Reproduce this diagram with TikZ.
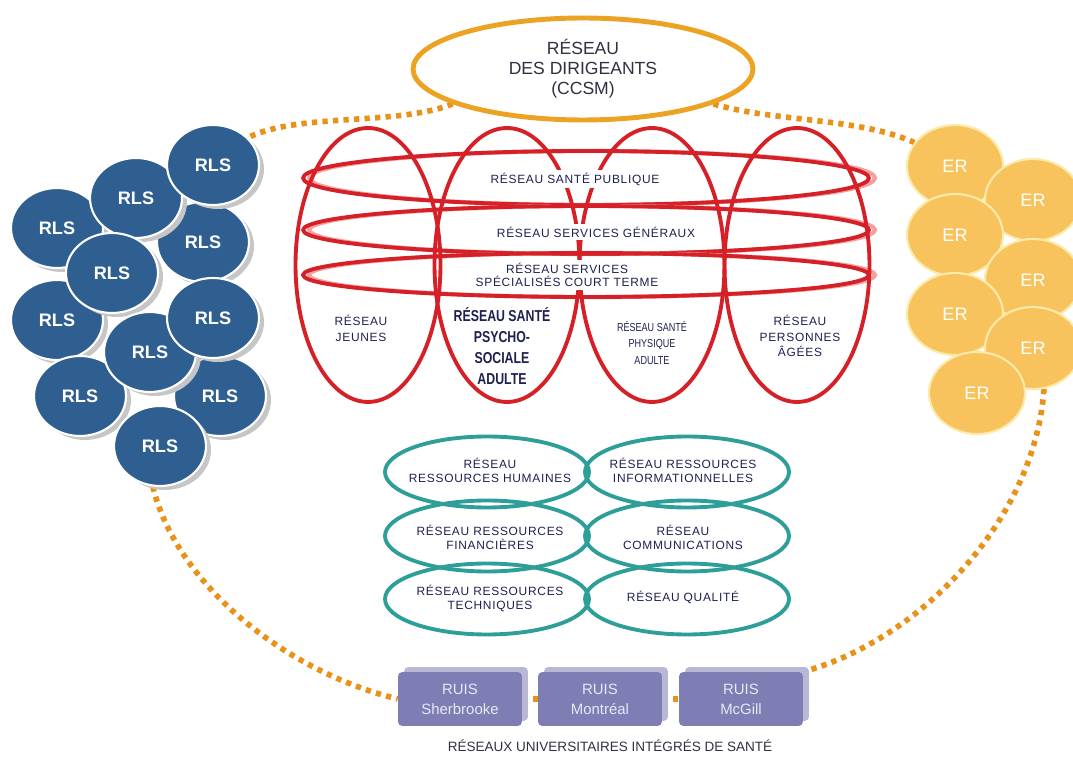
\documentclass[tikz,border=0pt]{standalone}
\usepackage{fontspec}
\setmainfont{Liberation Sans}
\newfontfamily\spacedfont[LetterSpace=6]{Liberation Sans}
\newfontfamily\narrowfont[FakeStretch=0.78]{Liberation Sans}
\usetikzlibrary{shapes.geometric,shadows,backgrounds}
\definecolor{rlsblue}{RGB}{47,95,145}
\definecolor{erorange}{RGB}{248,194,92}
\definecolor{erline}{RGB}{252,234,170}
\definecolor{ccsmring}{RGB}{236,162,34}
\definecolor{dotorange}{RGB}{232,146,26}
\definecolor{ringred}{RGB}{214,32,40}
\definecolor{ringpink}{RGB}{244,160,160}
\definecolor{ringteal}{RGB}{46,158,152}
\definecolor{ruisfill}{RGB}{126,126,180}
\definecolor{ruisshade}{RGB}{184,184,212}
\definecolor{ruistext}{RGB}{232,232,246}
\definecolor{txtnavy}{RGB}{30,32,80}
\definecolor{txtgray}{RGB}{48,48,64}
\begin{document}
\begin{tikzpicture}[x=0.02cm,y=-0.02cm,
   every node/.style={inner sep=0pt, text=txtnavy, align=center},
   rls/.style={ellipse, minimum width=1.84cm, minimum height=1.6cm, fill=rlsblue,
     draw=white, line width=1.2pt, text=white, font=\bfseries\fontsize{10.3}{12}\selectfont,
     drop shadow={shadow xshift=0.1cm, shadow yshift=-0.08cm, fill=gray!45, opacity=1}},
   er/.style={ellipse, minimum width=1.92cm, minimum height=1.64cm, fill=erorange,
     draw=erline, line width=1.2pt, text=white, font=\fontsize{10.3}{12}\selectfont},
   ccsm/.style={ellipse, minimum width=6.8cm, minimum height=2.04cm, draw=ccsmring,
     line width=2.8pt, fill=white, text=txtgray, font=\fontsize{10}{11.3}\selectfont},
   vring/.style={ellipse, minimum width=2.9cm, minimum height=5.48cm, draw=ringred, line width=2.2pt},
   hring/.style={ellipse, minimum width=11.32cm, draw=ringred, line width=2.2pt,
     preaction={draw=ringpink, line width=2.4pt, transform canvas={xshift=0.12cm}}},
   hlabel/.style={fill=white, inner sep=1.5pt, font=\spacedfont\fontsize{6.8}{7.6}\selectfont},
   vlabel/.style={font=\spacedfont\fontsize{6.8}{9}\selectfont},
   teal/.style={ellipse, minimum width=4.08cm, minimum height=1.42cm, draw=ringteal, line width=2.2pt},
   tlabel/.style={font=\spacedfont\fontsize{6.8}{8}\selectfont},
   ruis/.style={rectangle, rounded corners=2.5pt, minimum width=2.48cm, minimum height=1.08cm,
     fill=ruisfill, text=ruistext, font=\fontsize{8.5}{11.3}\selectfont,
     drop shadow={shadow xshift=0.12cm, shadow yshift=0.1cm, fill=ruisshade, opacity=1}},
   dots/.style={draw=dotorange, line width=3.2pt, dash pattern=on 3pt off 3pt}]

\useasboundingbox (0,0) rectangle (1073,759);
\clip (0,0) rectangle (1073,759);

\node[ccsm] (ccsm) at (583,69) {RÉSEAU\\DES DIRIGEANTS\\(CCSM)};

\foreach \n/\x/\y in {3/57/228, 6/57/320, 9/80/396, 4/203/242, 10/220/396, 2/136/198,
                      5/112/273, 8/150/352, 7/213/318, 11/160/446, 1/213/165}
  \node[rls] (rls\n) at (\x,\y) {RLS};

\foreach \n/\x/\y in {1/955/166, 2/1033/200, 3/955/235, 4/1033/280, 5/955/314, 6/1033/348, 7/977/393}
  \node[er] (er\n) at (\x,\y) {ER};

\node[hring, minimum height=1.08cm] (publique) at (586,178) {};
\node[hring, minimum height=0.96cm] (generaux) at (586,230) {};
\node[hring, minimum height=0.88cm] (court) at (586,275) {};

\node[vring] (jeunes) at (368,265) {};
\node[vring] (psycho) at (507,265) {};
\node[vring] (physique) at (652,265) {};
\node[vring] (agees) at (797,265) {};

\node[hlabel] (publiquetxt) at (575,179) {RÉSEAU SANTÉ PUBLIQUE};
\node[hlabel] (generauxtxt) at (596,232) {RÉSEAU SERVICES GÉNÉRAUX};
\node[hlabel] (courttxt) at (567,275) {RÉSEAU SERVICES\\SPÉCIALISÉS COURT TERME};

\node[vlabel] (jeunestxt) at (361,328) {RÉSEAU\\JEUNES};
\node[font=\narrowfont\bfseries\fontsize{9}{12}\selectfont, text=txtnavy] (psychotxt) at (502,346)
  {RÉSEAU SANTÉ\\PSYCHO-\\SOCIALE\\ADULTE};
\node[font=\narrowfont\fontsize{6.6}{9.6}\selectfont] (physiquetxt) at (652,343)
  {RÉSEAU SANTÉ\\PHYSIQUE\\ADULTE};
\node[vlabel] (ageestxt) at (800,336) {RÉSEAU\\PERSONNES\\ÂGÉES};

\node[teal] (humaines) at (487,472) {};
\node[teal] (informationnelles) at (687,472) {};
\node[teal] (financieres) at (487,536) {};
\node[teal] (communications) at (687,536) {};
\node[teal] (techniques) at (487,599) {};
\node[teal] (qualite) at (687,599) {};
\node[tlabel] at (490,470) {RÉSEAU\\RESSOURCES HUMAINES};
\node[tlabel] at (683,470) {RÉSEAU RESSOURCES\\INFORMATIONNELLES};
\node[tlabel] at (490,537) {RÉSEAU RESSOURCES\\FINANCIÈRES};
\node[tlabel] at (683,537) {RÉSEAU\\COMMUNICATIONS};
\node[tlabel] at (490,598) {RÉSEAU RESSOURCES\\TECHNIQUES};
\node[tlabel] at (683,597) {RÉSEAU QUALITÉ};

\node[ruis] (sherbrooke) at (460,699) {RUIS\\Sherbrooke};
\node[ruis] (montreal) at (600,699) {RUIS\\Montréal};
\node[ruis] (mcgill) at (741,699) {RUIS\\McGill};
\node[text=txtgray, font=\fontsize{7.7}{9}\selectfont] (ruiscaption) at (610,746)
  {RÉSEAUX UNIVERSITAIRES INTÉGRÉS DE  SANTÉ};

\begin{pgfonlayer}{background}
\draw[dots] (ccsm.195) .. controls +(-55,22) and +(50,-25) .. (rls1.38);
\draw[dots] (ccsm.-15) .. controls +(60,18) and +(-55,-25) .. (er1.150);
\draw[dots] (rls11.-100) .. controls (175,580) and (280,670) .. (sherbrooke.west);
\draw[dots] (er6.-75) .. controls (1035,520) and (920,640) .. (mcgill.north east);
\draw[dots] (sherbrooke.east) -- (montreal.west);
\draw[dots] (montreal.east) -- (mcgill.west);
\end{pgfonlayer}

\end{tikzpicture}
\end{document}
